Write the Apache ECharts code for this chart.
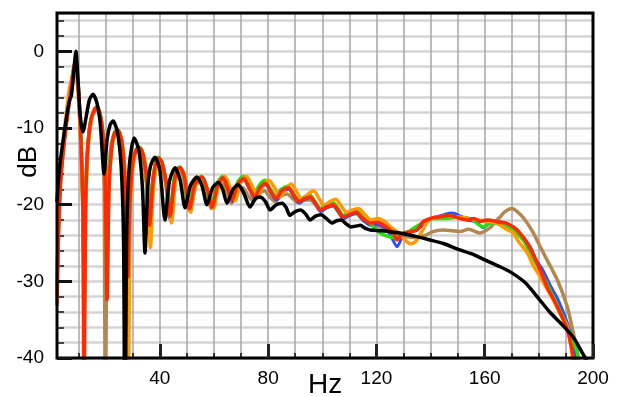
<!DOCTYPE html>
<html>
<head>
<meta charset="utf-8">
<script src="https://cdn.jsdelivr.net/npm/echarts@6/dist/echarts.min.js"></script>
<style>
  html, body { margin: 0; padding: 0; background: #fff; }
  #chart { width: 619px; height: 397px; }
</style>
</head>
<body>
<div id="chart"></div>
<script>
// tick / label positions
const hzGrid = [10, 20, 30, 40, 50, 60, 70, 80, 90, 100, 110, 120, 130, 140, 150, 160, 170, 180, 190, 200]
const hzLabels = [40, 80, 120, 160, 200]
const dbLabels = [-40, -30, -20, -10, 0]

// [Hz, dB]
const blackData = [
  [2, -19.5], [3, -15], [4.5, -11], [6, -7.5], [6.8, -6.2], [7.3, -5.8], [8, -3.5], [9, 0], [9.8, -4], [10.6, -8.5],
  [11.6, -10.5], [12.8, -8.5], [14, -6.3], [15.3, -5.6], [16.8, -6.8], [18, -9.5], [19.4, -16], [20.5, -11.5], [21.6, -9.6],
  [22.7, -9.1], [24.3, -10.5], [25.7, -15], [26.6, -25], [27.1, -55], [27.7, -25], [28.7, -15], [30.5, -11.3], [32.3, -13],
  [33.6, -18], [34.5, -26.3], [35.5, -18], [36.5, -15], [38.2, -13.8], [40, -15.5], [41.9, -22], [43.5, -17], [45.6, -15.2],
  [47.5, -16.8], [49.3, -20.4], [51.3, -17.5], [53.7, -16.4], [55.6, -17.6], [57.4, -20], [59.5, -17.8], [61.5, -17.1],
  [63.2, -18], [64.8, -19.8], [67, -18], [68.9, -17.4], [71, -18.5], [73.3, -20.3], [75.3, -19.2], [77, -19], [79, -19.6],
  [80.7, -20.7], [83, -20], [85.1, -19.8], [86.7, -20.4], [88, -21.4], [90, -20.9], [92, -20.7], [93.8, -21.2], [95.5, -22],
  [97.5, -21.5], [99.5, -21.3], [101.5, -21.8], [103.6, -22.4], [105.3, -22.1], [107, -22], [108.8, -22.5], [110.5, -22.9],
  [112.3, -22.8], [114, -22.7], [116, -23.1], [117.7, -23.3], [122, -23.4], [128.7, -23.7], [134, -24.1], [139.8, -24.6],
  [145, -25.1], [150, -25.8], [155, -26.4], [160, -27.2], [165.7, -28.1], [170, -28.9], [175, -30.2], [180.5, -32.5],
  [184, -34], [187.9, -35.4], [192.7, -37.3], [196, -39.3], [198, -40.5]
]

const redData = [
  [2, -33], [2.5, -25], [3.2, -18], [4.2, -13.5], [5.5, -9.5], [6.8, -6], [7.8, -3.2], [8.6, -1.5], [9.4, -2.5], [10.2, -6.5],
  [11, -13], [11.6, -22], [12, -50], [12.5, -22], [13.2, -13.5], [14.5, -9], [16, -7.5], [16.8, -7.3], [18, -8.3], [19, -11],
  [19.8, -17], [20.5, -32.4], [21.2, -18], [22.2, -12.5], [23.3, -10.6], [24.5, -10.3], [25.8, -11.5], [26.8, -15], [27.6, -21],
  [28.2, -29.4], [28.9, -20], [30, -14.5], [31.3, -12.8], [32.7, -12.6], [34, -13.8], [35.2, -17], [36.2, -22.7], [37.3, -17.5],
  [38.5, -14.5], [39.5, -13.9], [40.8, -14.5], [42.5, -17.5], [43.8, -21.5], [45.3, -17], [46.5, -15.4], [47.5, -15.2],
  [49, -16.3], [51, -20.5], [53, -17.3], [55.6, -16.4], [57.5, -18], [59.3, -20.3], [61.3, -17.5], [63.3, -16.5], [65, -17.8],
  [66.7, -19.4], [68.8, -17.3], [71, -16.6], [73, -17.8], [75, -19], [77, -17.8], [79, -17.2], [81, -18.3], [83, -19.2],
  [85, -18.2], [87.5, -17.8], [89.5, -18.8], [91.5, -19.6], [93.5, -19.2], [95.5, -19], [97.5, -19.8], [99.3, -20.7],
  [101.5, -20.3], [104, -20], [106, -20.8], [107.8, -21.6], [110, -21.3], [112.5, -21], [115, -21.8], [117.7, -22.4],
  [120.5, -22.3], [124, -23], [126, -23.6], [127.6, -24.6], [129.5, -23.8], [131.3, -23.6], [135, -23.3], [137, -22.3],
  [140, -21.8], [143, -21.6], [147.2, -21.4], [150, -21.7], [153.5, -22], [156, -21.8], [158.3, -22.2], [161, -22],
  [165.7, -22.3], [168, -22.4], [170, -22.8], [172, -23.3], [175.7, -25], [179.4, -27.6], [183, -30.7], [186.8, -33.3],
  [190.5, -36.3], [192.4, -39.3], [194, -43]
]

const orangeData = [
  [2, -30], [2.4, -24], [3, -18], [4, -13], [5.3, -8.5], [6.5, -5], [7.5, -3.5], [8.4, -2], [9.2, -2.8], [10, -6.5],
  [10.8, -12], [11.5, -20], [12, -38], [12.6, -21], [13.4, -13], [14.8, -8.8], [16.2, -7.4], [17.2, -7.6], [18.3, -8.8],
  [19.3, -12], [20, -18], [20.5, -30], [21.1, -19], [22.2, -12.8], [23.5, -10.8], [24.8, -10.5], [26, -11.8], [27, -15],
  [27.8, -22], [28.3, -50], [29, -21], [30.1, -15], [31.5, -13], [33, -12.8], [34.3, -14], [35.4, -18], [36.5, -25.6],
  [37.5, -18.5], [38.7, -15], [39.8, -14.2], [41, -14.8], [42.7, -18], [44.3, -22.4], [45.6, -17.5], [46.8, -15.6],
  [48, -15.4], [49.5, -16.8], [51.3, -21], [53.3, -17.5], [55.8, -16.5], [57.8, -18.2], [59.8, -20.5], [61.8, -17.5],
  [64, -16.3], [66, -17.8], [67.8, -19.5], [69.8, -17.2], [72, -16.3], [74, -17.5], [76, -18.8], [78, -17.5], [80.3, -16.8],
  [82.3, -17.8], [84.3, -19], [86.3, -18], [88.5, -17.3], [90.5, -18.3], [92.5, -19.4], [94.5, -18.7], [96.8, -18.2],
  [98.8, -19.2], [100.8, -20.2], [102.8, -19.6], [105, -19.3], [107, -20.2], [109, -21], [111, -20.7], [113.3, -20.5],
  [115.5, -21.2], [118, -22], [120.5, -21.8], [123, -22.2], [125.5, -23], [128, -23.6], [130.5, -24.6], [132.5, -25.1],
  [134.5, -24.8], [136.8, -23.5], [139, -22.2], [142, -21.6], [146, -21.5], [150, -21.6], [154, -21.8], [158, -22],
  [162, -22.2], [165, -22.5], [168, -23.2], [170.5, -23.7], [172.5, -24.8], [175.7, -26.3], [178, -28], [180.5, -29.4],
  [183, -31], [185.3, -32.4], [188, -34.3], [190.5, -35.9], [192.2, -39.3], [193, -42]
]

const greenData = [
  [2, -31], [2.5, -23], [3.2, -17], [4.3, -12.5], [5.6, -8.8], [6.8, -5.5], [7.8, -3], [8.6, -1.6], [9.4, -2.6], [10.2, -6.6],
  [11, -13], [11.6, -20], [12, -28], [12.5, -20], [13.2, -13.5], [14.5, -9], [16, -7.5], [16.8, -7.2], [18, -8.3], [19, -11],
  [19.8, -17], [20.3, -28], [21, -18], [22.1, -12.5], [23.3, -10.5], [24.4, -10.2], [25.7, -11.4], [26.7, -15], [27.5, -21],
  [28, -28], [28.7, -20], [29.9, -14.5], [31.2, -12.8], [32.6, -12.5], [33.9, -13.7], [35.1, -17], [36.1, -23], [37.2, -17.5],
  [38.4, -14.5], [39.4, -13.8], [40.7, -14.4], [42.4, -17.4], [43.7, -21.5], [45.2, -16.8], [46.4, -15.3], [47.4, -15.1],
  [48.9, -16.2], [50.8, -20.3], [52.9, -17.2], [55.4, -16.3], [57.3, -17.9], [59.1, -20], [61.1, -17.3], [63.2, -16.3],
  [64.9, -17.6], [66.6, -19.2], [68.7, -17.1], [70.8, -16.3], [72.8, -17.4], [74.8, -18.6], [76.8, -17.4], [78.8, -16.8],
  [80.8, -18], [82.8, -18.9], [84.8, -18], [87.3, -17.6], [89.3, -18.6], [91.3, -19.5], [93.3, -19], [95.3, -18.7],
  [97.3, -19.6], [99.3, -20.5], [101.3, -20], [103.8, -19.7], [105.8, -20.5], [107.8, -21.4], [110, -21], [112.5, -20.8],
  [115, -21.6], [118, -22.6], [121.4, -23.7], [124, -24.1], [127, -24.3], [129.5, -23.8], [132, -23.5], [134.5, -22.9],
  [137.5, -22.3], [141, -21.8], [146, -21.8], [150, -21.6], [155, -21.9], [159.4, -22.9], [162, -22.4], [165, -22.5],
  [170, -23.2], [174.2, -24.6], [177, -26.4], [179.7, -28.1], [182.5, -30], [185.3, -32], [188, -34], [190.5, -35.9],
  [192.5, -37.8], [194.2, -39.3], [195, -42]
]

const blueData = [
  [2, -32], [2.5, -24], [3.2, -17.5], [4.3, -13], [5.6, -9], [6.8, -5.7], [7.8, -3], [8.6, -1.6], [9.4, -2.6], [10.2, -6.6],
  [11, -13], [11.6, -21], [12, -34], [12.5, -21], [13.2, -13.5], [14.5, -9], [16, -7.6], [16.9, -7.4], [18.1, -8.4],
  [19.1, -11.2], [19.9, -17], [20.4, -30], [21.1, -18], [22.2, -12.6], [23.4, -10.6], [24.6, -10.4], [25.9, -11.6],
  [26.9, -15], [27.7, -21], [28.2, -30], [28.9, -20], [30.1, -14.6], [31.4, -12.9], [32.8, -12.7], [34.1, -13.9],
  [35.3, -17], [36.3, -24], [37.4, -17.5], [38.6, -14.6], [39.6, -14], [40.9, -14.6], [42.6, -17.6], [43.9, -22],
  [45.4, -17], [46.6, -15.5], [47.6, -15.3], [49.1, -16.4], [51, -20.8], [53.1, -17.4], [55.7, -16.5], [57.6, -18.1],
  [59.4, -20.4], [61.4, -17.6], [63.4, -16.6], [65.1, -17.9], [66.8, -19.6], [68.9, -17.4], [71.1, -16.8], [73.1, -18],
  [75.1, -19.3], [77.1, -18], [79.1, -17.4], [81.1, -18.5], [83.1, -19.4], [85.1, -18.4], [87.6, -18], [89.6, -19],
  [91.6, -19.8], [93.6, -19.3], [95.6, -19.1], [97.6, -20], [99.4, -20.9], [101.6, -20.4], [104.1, -20.1], [106.1, -21],
  [107.9, -21.8], [110.1, -21.4], [112.6, -21.1], [115.1, -22], [117.8, -22.7], [120.5, -22.6], [123.5, -23.2],
  [125.5, -24.2], [127.6, -25.5], [129.5, -24.3], [132, -23.7], [135, -23.3], [138, -22.4], [141, -21.7], [145, -21.3],
  [148, -21.1], [151, -21.5], [154, -22], [157, -22.3], [159.4, -23], [162, -22.4], [165, -22.2], [170, -22.8],
  [173.5, -24], [176.8, -25.5], [179, -27.2], [181.6, -28.6], [184, -30.4], [186.8, -32.2], [189, -34], [190.5, -35.4],
  [192, -37.2], [193.4, -39.3], [194.2, -42]
]

const brownData = [
  [2, -30], [2.5, -23], [3.2, -17], [4.3, -12.5], [5.6, -8.8], [6.8, -5.3], [7.8, -3], [8.5, -1.8], [9.3, -2.8], [10.1, -6.8],
  [10.9, -13], [11.5, -20], [11.9, -28], [12.4, -20], [13.1, -13.5], [14.4, -9.2], [15.9, -7.8], [16.7, -7.6], [17.9, -8.6],
  [18.8, -11.5], [19.4, -18], [19.9, -50], [20.6, -18], [21.8, -12.8], [23.1, -10.8], [24.3, -10.5], [25.6, -11.7],
  [26.6, -15.2], [27.4, -21], [27.9, -30], [28.6, -20.5], [29.8, -14.8], [31.1, -13], [32.5, -12.8], [33.8, -14],
  [35, -17.2], [36, -24], [37.1, -17.8], [38.3, -14.8], [39.3, -14.1], [40.6, -14.7], [42.3, -17.7], [43.6, -21.8],
  [45.1, -17.2], [46.3, -15.7], [47.3, -15.5], [48.8, -16.6], [50.7, -20.6], [52.8, -17.7], [55.3, -16.8], [57.2, -18.4],
  [59, -20.5], [61, -18], [63, -17.2], [64.8, -18.4], [66.5, -19.8], [68.6, -18.3], [70.6, -17.8], [72.6, -18.8],
  [74.6, -19.6], [76.6, -18.6], [78.6, -18.2], [80.6, -19], [82.6, -19.6], [84.6, -18.9], [87, -18.6], [89, -19.2],
  [91, -19.7], [93, -19.4], [95.5, -19.4], [97.5, -20], [99.3, -20.8], [101.5, -20.4], [104, -20.2], [106, -21],
  [107.8, -21.8], [110, -21.4], [112.5, -21.2], [115, -22], [117.7, -22.6], [120.5, -22.8], [124, -23.4], [127.5, -24],
  [131, -24.2], [134.5, -24.3], [138, -24], [141, -23.5], [144.6, -23.3], [148, -23.4], [151, -23.5], [154, -23.2],
  [158.3, -23.7], [162, -23], [164, -22.2], [165.7, -21.6], [167.5, -20.9], [170, -20.5], [172, -20.9], [174.5, -21.8],
  [178, -23.7], [180.5, -25.5], [183, -27.2], [186.8, -29.8], [190.5, -33.3], [192.7, -36.7], [194.2, -39.3], [195, -42]
]

const chart = echarts.init(document.getElementById('chart'), null, { renderer: 'canvas' })

function lineSeries(name, data, color, width) {
  return {
    name: name,
    type: 'line',
    data: data,
    showSymbol: false,
    smooth: 0.25,
    clip: true,
    xAxisIndex: 0,
    yAxisIndex: 0,
    lineStyle: { color: color, width: width, join: 'round', cap: 'round' },
    z: 3,
  }
}

const labelFont = { fontFamily: 'Liberation Sans', fontSize: 19, color: '#000' }

let option = {
  animation: false,
  backgroundColor: '#fff',
  grid: {
    left: 57,
    top: 13,
    right: 26,
    bottom: 39,
    show: true,
    borderColor: '#000',
    borderWidth: 3,
    backgroundColor: 'transparent',
    z: 6,
  },
  xAxis: [
    {
      type: 'value',
      min: 2,
      max: 200,
      z: 2,
      position: 'bottom',
      axisLine: { show: false, onZero: false },
      axisTick: { show: true, inside: true, length: 5, customValues: hzGrid, lineStyle: { color: '#333', width: 2 } },
      axisLabel: { show: false },
      splitLine: { show: true, lineStyle: { color: '#a6a6a6', width: 1.5 } },
    },
    {
      type: 'value',
      min: 2,
      max: 200,
      z: 7,
      position: 'bottom',
      axisLine: { show: false, onZero: false },
      axisTick: { show: true, inside: true, length: 14, customValues: hzLabels, lineStyle: { color: '#222', width: 3 } },
      axisLabel: Object.assign({ show: true, margin: 11, customValues: hzLabels }, labelFont),
      splitLine: { show: false },
    },
  ],
  yAxis: [
    {
      type: 'value',
      min: -40,
      max: 5,
      interval: 2,
      z: 1,
      position: 'left',
      axisLine: { show: false, onZero: false },
      axisTick: { show: true, inside: true, length: 7, lineStyle: { color: '#444', width: 2 } },
      axisLabel: { show: false },
      splitLine: { show: true, lineStyle: { color: '#d4d4d4', width: 2.5 } },
    },
    {
      type: 'value',
      min: -40,
      max: 5,
      z: 7,
      position: 'left',
      axisLine: { show: false, onZero: false },
      axisTick: { show: true, inside: true, length: 15, customValues: dbLabels, lineStyle: { color: '#111', width: 3 } },
      axisLabel: Object.assign({ show: true, margin: 13, customValues: dbLabels }, labelFont),
      splitLine: { show: false },
    },
  ],
  graphic: [
    {
      type: 'text',
      left: 16,
      top: 146,
      rotation: Math.PI / 2,
      style: { text: 'dB', fontFamily: 'Liberation Sans', fontSize: 26, fill: '#000' },
      z: 10,
    },
    {
      type: 'text',
      left: 308,
      top: 371,
      style: { text: 'Hz', fontFamily: 'Liberation Sans', fontSize: 28, fill: '#000' },
      z: 10,
    },
  ],
  series: [
    lineSeries('brown', brownData, '#b3884f', 3.5),
    lineSeries('blue', blueData, '#2a4dff', 3),
    lineSeries('green', greenData, '#22e010', 3.5),
    lineSeries('orange', orangeData, '#ff9a00', 3.5),
    lineSeries('red', redData, '#ff2a00', 3.5),
    lineSeries('black', blackData, '#000000', 3.5),
  ],
}

chart.setOption(option)
</script>
</body>
</html>
